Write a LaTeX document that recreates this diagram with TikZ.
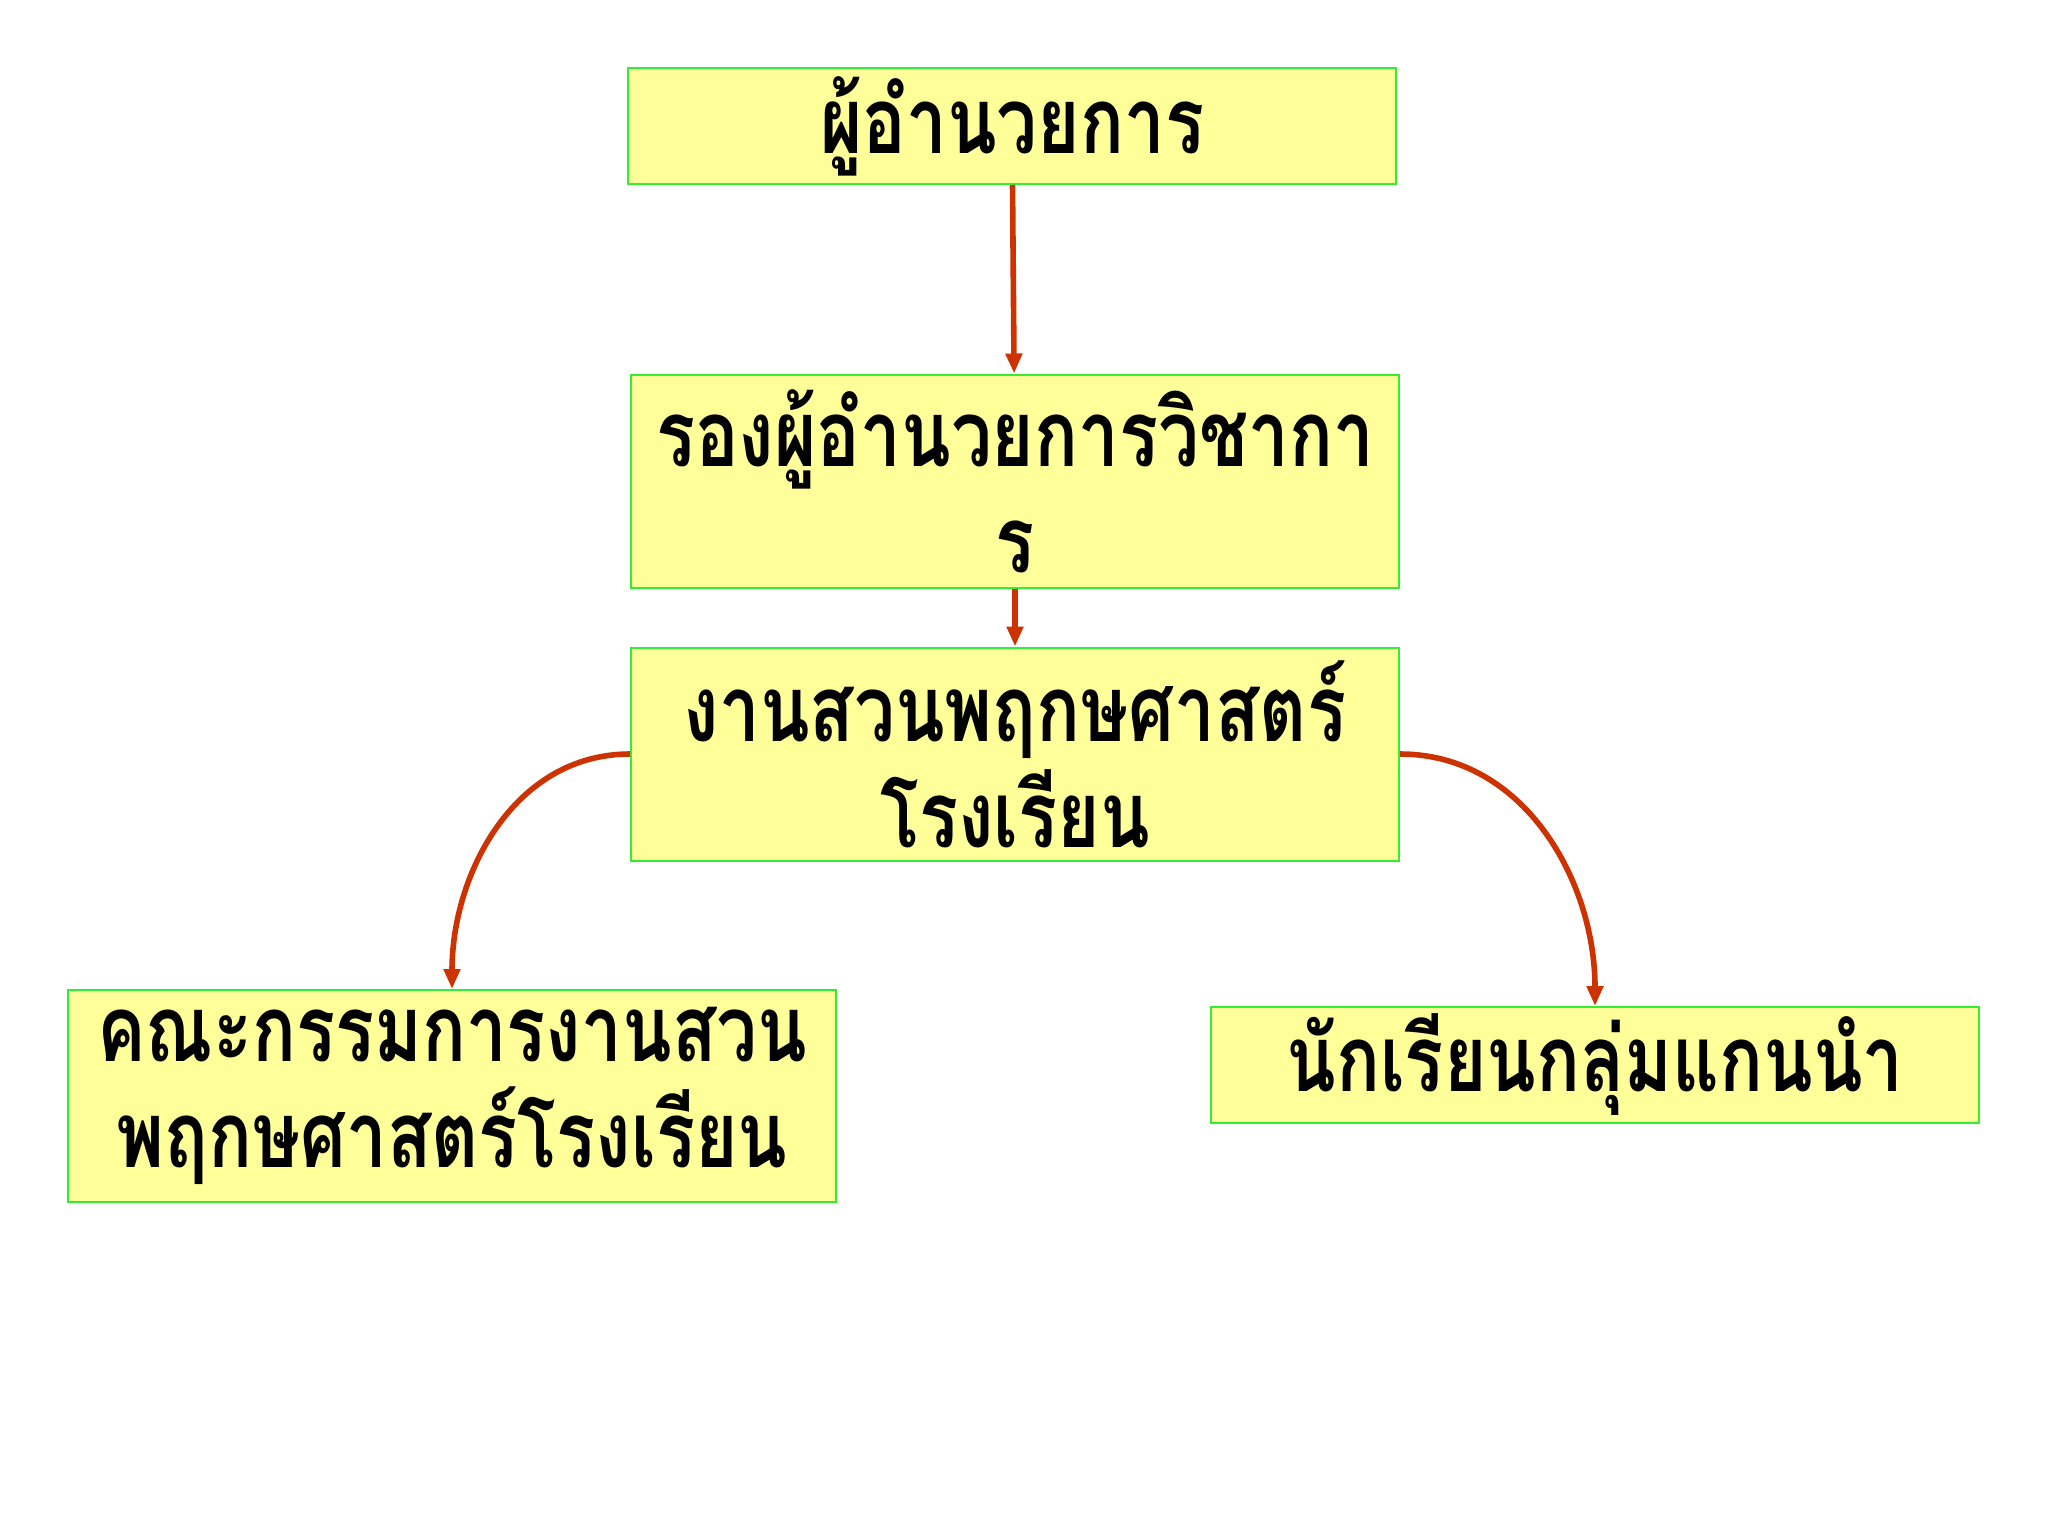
\documentclass[tikz,border=0pt]{standalone}
\usepackage{fontspec}
\newfontfamily\thaifont[Script=Thai,FakeStretch=0.79]{Loma}
\usetikzlibrary{arrows.meta}
\definecolor{boxfill}{HTML}{FFFF99}
\definecolor{boxline}{HTML}{33EE33}
\definecolor{linkred}{HTML}{CC3300}

\begin{document}
\begin{tikzpicture}[x=0.5pt,y=-0.5pt,
    every node/.style={draw=boxline, fill=boxfill, line width=1pt,
      minimum width=384pt, align=center, inner sep=0pt,
      font=\thaifont\bfseries\fontsize{46}{53}\selectfont},
    link/.style={draw=linkred, line width=2.8pt, -{Triangle[length=10pt,width=8pt]}}]

    \useasboundingbox[fill=white] (0,0) rectangle (2048,1536);

    % Chain of command
    \node[minimum height=58pt]    (director) at (1012, 126) {ผู้อำนวยการ};
    \node[minimum height=106.5pt] (deputy)   at (1015, 481) {รองผู้อำนวยการวิชากา\\ร};
    \node[minimum height=106.5pt] (garden)   at (1015, 754) {งานสวนพฤกษศาสตร์\\โรงเรียน};

    % Two groups under the garden project
    \node[minimum height=106pt] (board)   at (452, 1096) {คณะกรรมการงานสวน\\พฤกษศาสตร์โรงเรียน};
    \node[minimum height=58pt]  (leaders) at (1595, 1065) {นักเรียนกลุ่มแกนนำ};

    \draw[link] (director) -- (deputy);
    \draw[link] (deputy) -- (garden);
    \draw[link] (garden.west) to[out=180,in=90] (board.north);
    \draw[link] (garden.east) to[out=0,in=90] (leaders.north);

\end{tikzpicture}
\end{document}
